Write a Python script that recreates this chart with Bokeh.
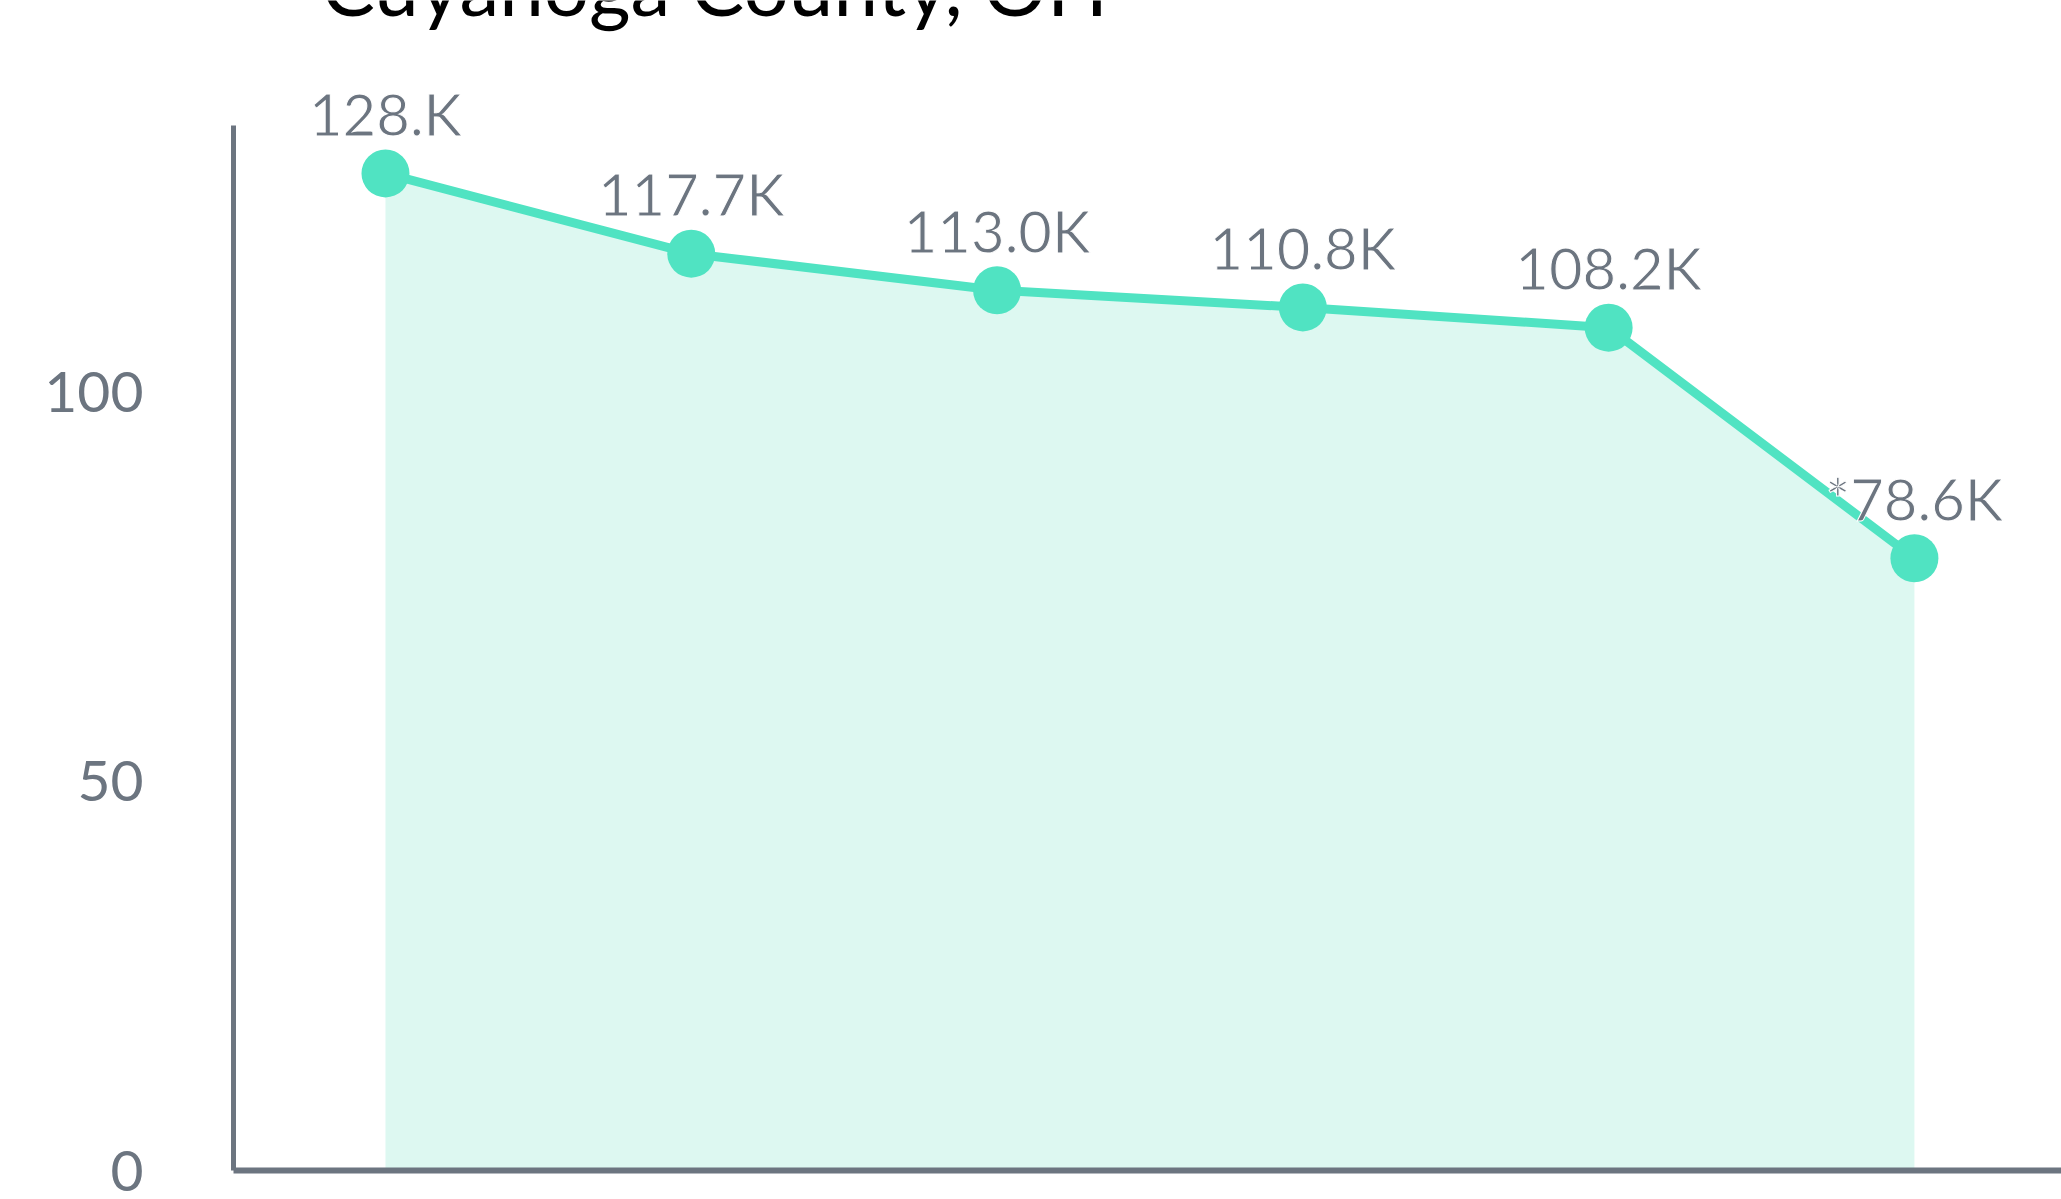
from bokeh.plotting import figure
from bokeh.models import ColumnDataSource, FixedTicker, Range1d
from bokeh.core.properties import value
from bokeh.embed import file_html
from bokeh.resources import INLINE

# ---- data ----
periods = [0, 1, 2, 3, 4, 5]
values = [128.0, 117.7, 113.0, 110.8, 108.2, 78.6]
value_labels = ["128.K", "117.7K", "113.0K", "110.8K", "108.2K", "*78.6K"]
y_ticks = [0, 50, 100]
title_text = "Cuyahoga County, OH"

GRAY = "#6c7580"
TEAL = "#50e3c2"
FILL = "#ddf8f1"

W, H = 2061, 1199
p = figure(width=W, height=H, output_backend="svg", toolbar_location=None,
           x_range=Range1d(-0.497, 5.481), y_range=Range1d(0, 150.2),
           min_border_left=233, min_border_right=0, min_border_top=0,
           min_border_bottom=29)
p.xgrid.visible = False
p.ygrid.visible = False
p.outline_line_color = None

p.yaxis.ticker = FixedTicker(ticks=y_ticks)
p.yaxis.bounds = (0, 134.1)
p.yaxis.major_tick_out = 0
p.yaxis.major_tick_in = 0
p.yaxis.minor_tick_out = 0
p.yaxis.minor_tick_in = 0
p.yaxis.major_label_standoff = 90
p.yaxis.major_label_text_font = "Lato"
p.yaxis.major_label_text_font_size = "57px"
p.yaxis.major_label_text_color = GRAY
p.yaxis.axis_line_color = GRAY
p.yaxis.axis_line_width = 5

p.xaxis.ticker = FixedTicker(ticks=[])
p.xaxis.major_tick_out = 0
p.xaxis.major_tick_in = 0
p.xaxis.minor_tick_out = 0
p.xaxis.minor_tick_in = 0
p.xaxis.major_label_standoff = 0
p.xaxis.axis_line_color = GRAY
p.xaxis.axis_line_width = 6

src = ColumnDataSource(dict(x=periods, y=values, t=value_labels))
p.varea(x="x", y1=0, y2="y", source=src, fill_color=FILL)
p.line(x="x", y="y", source=src, line_width=9, line_color=TEAL)
p.scatter(x="x", y="y", source=src, size=48, fill_color=TEAL, line_color=None)

p.text(x="x", y="y", text="t", source=src, y_offset=-60,
       text_align="center", text_baseline="alphabetic",
       text_font=value("Lato"), text_font_size=value("58px"),
       text_color=GRAY, text_outline_color="white")

p.text(x=[-0.209], y=[148.5], text=[title_text], text_font=value("Lato"),
       text_font_size=value("80px"), text_color="black", y_offset=-29,
       text_baseline="alphabetic", text_align="left")

open("out.html", "w").write(file_html(p, INLINE))
